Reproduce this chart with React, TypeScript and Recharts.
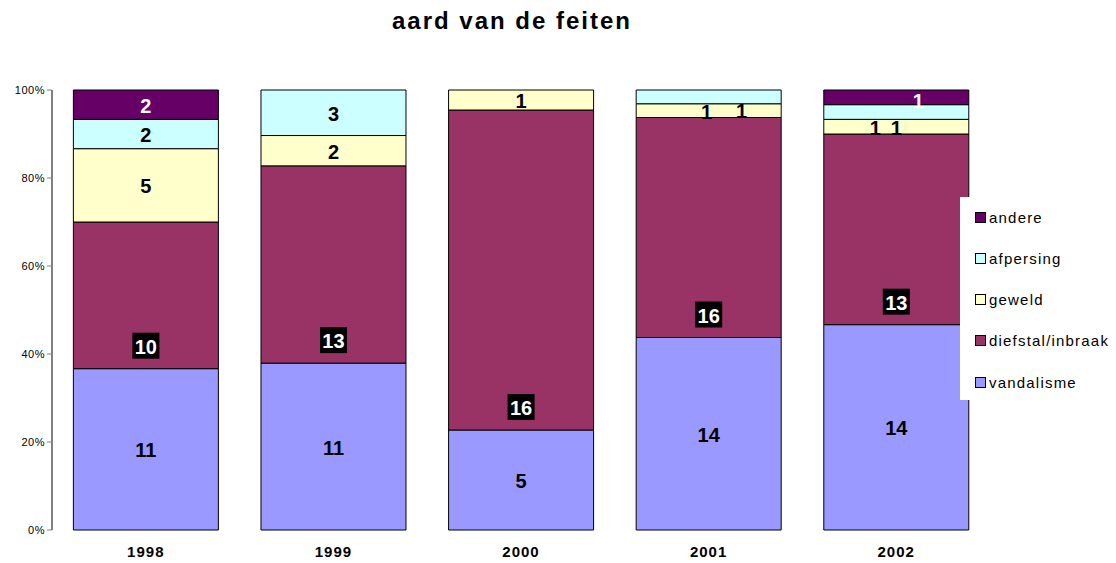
import React from "react";
import { BarChart, Bar, XAxis, YAxis, LabelList } from "recharts";

const years = ["1998", "1999", "2000", "2001", "2002"];
const vandalisme = [11, 11, 5, 14, 14];
const diefstal = [10, 13, 16, 16, 13];
const geweld = [5, 2, 1, 1, 1];
const afpersing = [2, 3, 0, 1, 1];
const andere = [2, 0, 0, 0, 1];
const yTicks = [0, 0.2, 0.4, 0.6, 0.8, 1];

const data = years.map((year, i) => ({
  year,
  vandalisme: vandalisme[i],
  diefstal: diefstal[i],
  geweld: geweld[i],
  afpersing: afpersing[i],
  andere: andere[i],
}));

const series = [
  { key: "vandalisme", name: "vandalisme", color: "#9999FF", labelColor: "#000", mode: "center" },
  { key: "diefstal", name: "diefstal/inbraak", color: "#993366", labelColor: "#fff", mode: "boxed" },
  { key: "geweld", name: "geweld", color: "#FFFFCC", labelColor: "#000", mode: "center" },
  { key: "afpersing", name: "afpersing", color: "#CCFFFF", labelColor: "#000", mode: "center" },
  { key: "andere", name: "andere", color: "#660066", labelColor: "#fff", mode: "center" },
];

// small nudges where the original labels were pushed aside (by year)
const nudges: Record<string, Record<string, [number, number]>> = {
  geweld: { "2001": [-2, 0], "2002": [-21, 0] },
  afpersing: { "2001": [33, 13], "2002": [0, 15] },
  andere: { "2002": [22, 3] },
};

const font = "'Liberation Sans', Arial, sans-serif";

function makeLabel(s: (typeof series)[number]) {
  return (props: any) => {
    const { x, y, width, height, value } = props;
    const [year, raw] = String(value).split("|");
    const v = Number(raw);
    if (!v) return null;
    const cx = Number(x) + Number(width) / 2;
    if (s.mode === "boxed") {
      const cy = Number(y) + Number(height) - 23;
      const w = raw.length * 11 + 5;
      return (
        <g>
          <rect x={cx - w / 2} y={cy - 13} width={w} height={26} fill="#000" />
          <text x={cx} y={cy + 1} textAnchor="middle" dominantBaseline="central" fill="#fff" fontSize={20} fontWeight="bold" fontFamily={font}>
            {raw}
          </text>
        </g>
      );
    }
    const [dx, dy] = nudges[s.key]?.[year] ?? [0, 0];
    const cy = Number(y) + Number(height) / 2;
    return (
      <text x={cx + dx} y={cy + dy + 1} textAnchor="middle" dominantBaseline="central" fill={s.labelColor} fontSize={20} fontWeight="bold" fontFamily={font}>
        {raw}
      </text>
    );
  };
}

function LegendBox() {
  const items = [...series].reverse();
  return (
    <div style={{ position: "absolute", left: 960, top: 197, background: "#fff", width: 156, height: 203, fontFamily: font }}>
      {items.map((s, i) => (
        <div key={s.key} style={{ position: "absolute", top: 20 + i * 41.3 - 10, left: 0, display: "flex", alignItems: "center", height: 20, fontSize: 15, letterSpacing: 1.2, color: "#000", whiteSpace: "nowrap" }}>
          <span style={{ width: 9, height: 9, border: "1px solid #000", background: s.color, marginLeft: 15, marginRight: 3 }} />
          {s.name}
        </div>
      ))}
    </div>
  );
}

export default function App() {
  return (
    <div style={{ position: "absolute", left: 0, top: 0, width: 1116, height: 563, background: "#fff" }}>
      <div style={{ position: "absolute", top: 7, left: 0, width: 1024, textAlign: "center", fontFamily: font, fontWeight: "bold", fontSize: 24, letterSpacing: 2 }}>
        aard van de feiten
      </div>
      <BarChart
        width={1116}
        height={563}
        data={data}
        stackOffset="expand"
        barCategoryGap="11.4%"
        margin={{ top: 90, right: 126, bottom: 3, left: 0 }}
      >
        <XAxis
          dataKey="year"
          axisLine={false}
          tickLine={false}
          height={30}
          tick={{ fontSize: 15, fontWeight: "bold", fill: "#000", fontFamily: font, letterSpacing: 1 }}
          dy={8}
        />
        <YAxis
          width={52}
          domain={[0, 1]}
          ticks={yTicks}
          tickFormatter={(v) => `${Math.round(v * 100)}%`}
          axisLine={{ stroke: "#808080", strokeWidth: 2 }}
          tickLine={{ stroke: "#808080" }}
          tickSize={5}
          tick={{ fontSize: 11, fill: "#000", fontFamily: font, letterSpacing: 0.5 }}
        />
        {series.map((s) => (
          <Bar key={s.key} dataKey={s.key} name={s.name} stackId="a" fill={s.color} stroke="#000" strokeWidth={1} isAnimationActive={false}>
            <LabelList dataKey={(d: any) => `${d.year}|${d[s.key]}`} content={makeLabel(s)} />
          </Bar>
        ))}
      </BarChart>
      <LegendBox />
    </div>
  );
}
